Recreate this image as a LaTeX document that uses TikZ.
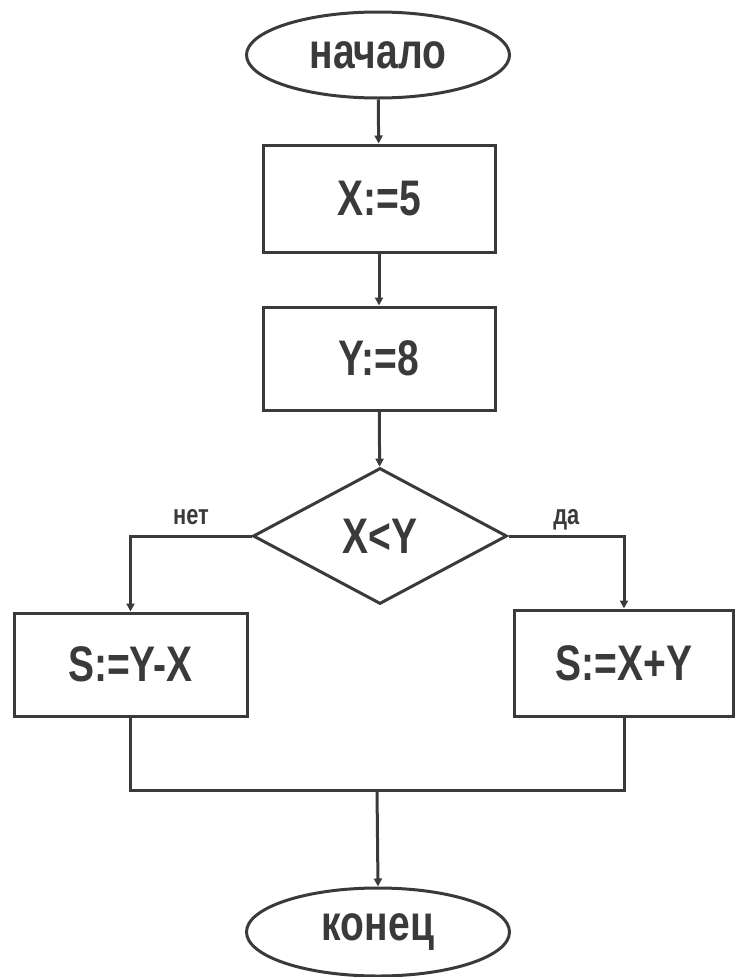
\documentclass[tikz,border=0pt]{standalone}
\usepackage{fontspec}
\newfontfamily\fc{Liberation Sans}[FakeStretch=0.78]
\usetikzlibrary{shapes.geometric,arrows.meta}
\definecolor{ink}{HTML}{3A3A3A}
\begin{document}
\begin{tikzpicture}[x=1pt,y=-1pt,
  base/.style={draw=ink, line width=3pt, text=ink, inner sep=0pt,
    font=\fc\bfseries\fontsize{50}{56}\selectfont},
  term/.style={base, ellipse, minimum width=263pt, minimum height=86pt},
  proc/.style={base, rectangle},
  cond/.style={base, diamond, minimum width=254pt, minimum height=136pt},
  conn/.style={draw=ink, line width=3pt},
  arr/.style={conn, -{Triangle[length=8pt,width=8pt]}},
  lbl/.style={text=ink, inner sep=0pt, anchor=base, yshift=12pt,
    font=\fc\bfseries\fontsize{28}{32}\selectfont}]
\useasboundingbox (0,0) rectangle (737,977);
\node[term] (start) at (378,55) {начало};
\node[proc, minimum width=232pt, minimum height=107pt] (x5) at (379,198.5) {X:=5};
\node[proc, minimum width=232pt, minimum height=103pt] (y8) at (379,358.5) {Y:=8};
\node[cond] (d) at (380,536) {X<Y};
\node[proc, minimum width=233pt, minimum height=103pt] (l) at (130.5,664.5) {S:=Y-X};
\node[proc, minimum width=219pt, minimum height=106pt] (r) at (624,663) {S:=X+Y};
\node[term, minimum height=88pt] (end) at (378,932) {конец};
\coordinate (m) at (377,790);
\draw[arr] (start) -- (x5);
\draw[arr] (x5) -- (y8);
\draw[arr] (y8) -- (d);
\draw[arr] (d.west) -- node[lbl] {нет} (d.west -| l.north) -- (l.north);
\draw[arr] (d.east) -- node[lbl] {да} (d.east -| r.north) -- (r.north);
\draw[conn] (l.south) |- (m -| r.south) -- (r.south);
\draw[arr] (m) -- (end.north);
\end{tikzpicture}
\end{document}
